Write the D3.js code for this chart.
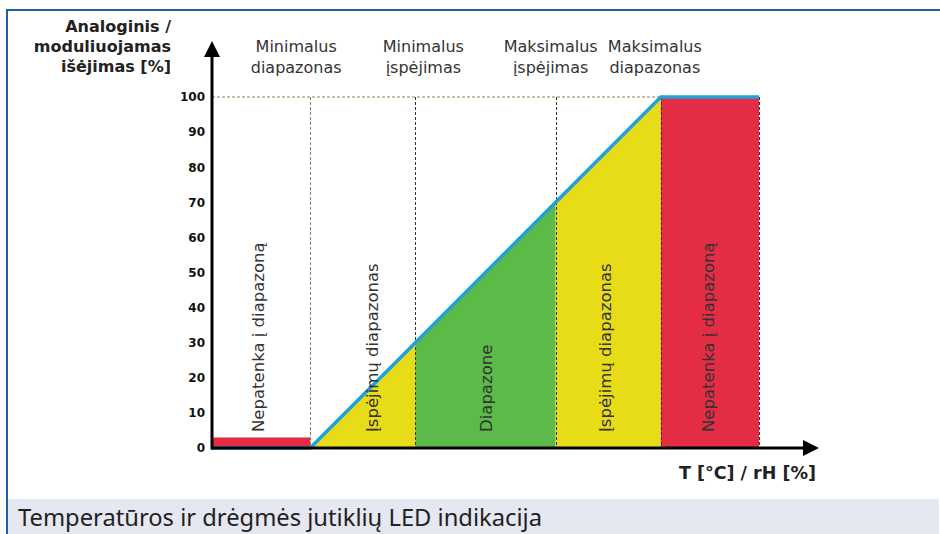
<!DOCTYPE html>
<html>
<head>
<meta charset="utf-8">
<script src="https://d3js.org/d3.v7.min.js"></script>
<style>
    body { margin: 0; background: #ffffff; }
    svg { display: block; }
    .font { font-family: "DejaVu Sans", Verdana, sans-serif; }
    .axis-title { font-weight: bold; fill: #222222; }
    .tick-label { font-weight: bold; font-size: 12px; fill: #111111; }
    .header { font-size: 16px; fill: #333333; }
    .zone-label { font-size: 16.5px; fill: #333333; }
    .caption { font-family: "Noto Sans", sans-serif; font-size: 23px; fill: #222222; }
</style>
</head>
<body>
<script>
    const WIDTH = 940;
    const HEIGHT = 534;

    // output curve of the sensor (x in arbitrary input units, y in %)
    const curveX = [-28, 0, 100, 128];
    const curveY = [0, 0, 100, 100];

    // zones along the input axis
    const zoneBounds = [-28, 0, 30, 70, 100, 128];
    const zoneKinds = ["out", "warn", "ok", "warn", "out"];
    const zoneLabels = ["Nepatenka į diapazoną", "Įspėjimų diapazonas", "Diapazone", "Įspėjimų diapazonas", "Nepatenka į diapazoną"];
    const outOfRangeBar = 3;

    // labels above the limit lines
    const headerAt = [0, 30, 70, 100];
    const headerLines = [
        ["Minimalus", "diapazonas"],
        ["Minimalus", "įspėjimas"],
        ["Maksimalus", "įspėjimas"],
        ["Maksimalus", "diapazonas"]
    ];

    const yTicks = [0, 10, 20, 30, 40, 50, 60, 70, 80, 90, 100];
    const yTitle = ["Analoginis /", "moduliuojamas", "išėjimas [%]"];
    const xTitle = "T [°C] / rH [%]";
    const caption = "Temperatūros ir drėgmės jutiklių LED indikacija";

    const COLORS = { out: "#e52c45", warn: "#e8dc19", ok: "#5bba48" };
    const LINE_COLOR = "#1ca3da";
    const FRAME_COLOR = "#1f5f9e";

    // small horizontal nudges (px) for the rotated zone labels and the headers
    const zoneLabelNudge = [-3, 9, 1, -3, -2];
    const headerNudge = [-14, 8, -5, -6];

    const svg = d3.select("body").append("svg")
        .attr("width", WIDTH)
        .attr("height", HEIGHT);

    // frame + caption band
    svg.append("rect")
        .attr("x", 8).attr("y", 499)
        .attr("width", WIDTH - 9).attr("height", HEIGHT - 499)
        .attr("fill", "#e5e7f1");
    svg.append("path")
        .attr("d", "M7,534 V10 H940")
        .attr("fill", "none")
        .attr("stroke", FRAME_COLOR)
        .attr("stroke-width", 2);

    svg.append("text")
        .attr("x", 18).attr("y", 526)
        .attr("textLength", 524)
        .attr("lengthAdjust", "spacingAndGlyphs")
        .classed("caption", true)
        .text(caption);

    const x = d3.scaleLinear().domain([zoneBounds[0], zoneBounds[zoneBounds.length - 1]]).range([212, 759]);
    const y = d3.scaleLinear().domain([0, 100]).range([448, 97]);
    const output = d3.scaleLinear().domain(curveX).range(curveY);

    // zone fills under the output curve
    const zones = zoneKinds.map(function(k, i) {
        return { kind: k, x0: zoneBounds[i], x1: zoneBounds[i + 1], label: zoneLabels[i], i: i };
    });
    const area = d3.area()
        .x(function(d) { return x(d); })
        .y0(y(0))
        .y1(function(d) { return y(output(d)); });
    svg.selectAll(".zone")
        .data(zones.filter(function(z) { return z.i > 0; }))
        .enter().append("path")
        .attr("fill", function(z) { return COLORS[z.kind]; })
        .attr("d", function(z) { return area([z.x0, z.x1]); });

    // red bar for the low out-of-range zone
    svg.append("rect")
        .attr("x", x(zones[0].x0))
        .attr("y", y(outOfRangeBar))
        .attr("width", x(zones[0].x1) - x(zones[0].x0))
        .attr("height", y(0) - y(outOfRangeBar))
        .attr("fill", COLORS.out);

    // dotted guide lines
    svg.append("line")
        .attr("x1", x(zoneBounds[0])).attr("x2", x(100))
        .attr("y1", y(100)).attr("y2", y(100))
        .attr("stroke", "#8c8450").attr("stroke-width", 1.2)
        .attr("stroke-dasharray", "3,2");
    svg.selectAll(".vguide")
        .data(zoneBounds.slice(1))
        .enter().append("line")
        .attr("x1", function(d) { return Math.round(x(d)) + 0.5; })
        .attr("x2", function(d) { return Math.round(x(d)) + 0.5; })
        .attr("y1", y(100)).attr("y2", y(0))
        .attr("stroke", function(d) { return d <= 0 ? "#8c8450" : "#333333"; })
        .attr("stroke-width", 1)
        .attr("stroke-dasharray", "3,2");

    // output line
    svg.append("path")
        .datum(d3.zip(curveX, curveY))
        .attr("fill", "none")
        .attr("stroke", LINE_COLOR)
        .attr("stroke-width", 3.5)
        .attr("d", d3.line()
            .x(function(d) { return x(d[0]); })
            .y(function(d) { return y(d[1]); }));

    // axes with arrows
    svg.append("line")
        .attr("x1", 212).attr("x2", 212)
        .attr("y1", y(0) + 1.5).attr("y2", 55)
        .attr("stroke", "#000").attr("stroke-width", 3);
    svg.append("path")
        .attr("d", "M212,41 L220,57 L204,57 Z")
        .attr("fill", "#000");
    svg.append("line")
        .attr("x1", 211).attr("x2", 806)
        .attr("y1", y(0)).attr("y2", y(0))
        .attr("stroke", "#000").attr("stroke-width", 3);
    svg.append("path")
        .attr("d", "M819," + y(0) + " L803," + (y(0) - 8) + " L803," + (y(0) + 8) + " Z")
        .attr("fill", "#000");

    const yAxis = d3.axisLeft(y)
        .tickValues(yTicks)
        .tickSize(0)
        .tickPadding(7);
    const yAxisGroup = svg.append("g")
        .attr("transform", "translate(212,0)")
        .call(yAxis);
    yAxisGroup.select(".domain").remove();
    yAxisGroup.selectAll("text")
        .attr("class", "font tick-label")
        .attr("font-family", null)
        .attr("font-size", null);

    // axis titles
    svg.append("text")
        .attr("text-anchor", "end")
        .classed("font axis-title", true)
        .style("font-size", "16px")
        .selectAll("tspan")
        .data(yTitle)
        .enter().append("tspan")
        .attr("x", 171)
        .attr("y", function(d, i) { return 32 + i * 20; })
        .text(function(d) { return d; });

    svg.append("text")
        .attr("x", 816).attr("y", 479)
        .attr("text-anchor", "end")
        .classed("font axis-title", true)
        .style("font-size", "17.5px")
        .text(xTitle);

    // headers above the limits
    svg.selectAll(".header")
        .data(headerAt)
        .enter().append("text")
        .attr("text-anchor", "middle")
        .classed("font header", true)
        .each(function(d, i) {
            d3.select(this).selectAll("tspan")
                .data(headerLines[i])
                .enter().append("tspan")
                .attr("x", x(d) + headerNudge[i])
                .attr("y", function(t, j) { return 52 + j * 21; })
                .text(function(t) { return t; });
        });

    // rotated zone labels
    svg.selectAll(".zone-label")
        .data(zones)
        .enter().append("text")
        .classed("font zone-label", true)
        .attr("transform", function(z) {
            const cx = (x(z.x0) + x(z.x1)) / 2 + zoneLabelNudge[z.i];
            return "translate(" + cx + ",432) rotate(-90)";
        })
        .attr("dy", "0.35em")
        .text(function(z) { return z.label; });
</script>
</body>
</html>
